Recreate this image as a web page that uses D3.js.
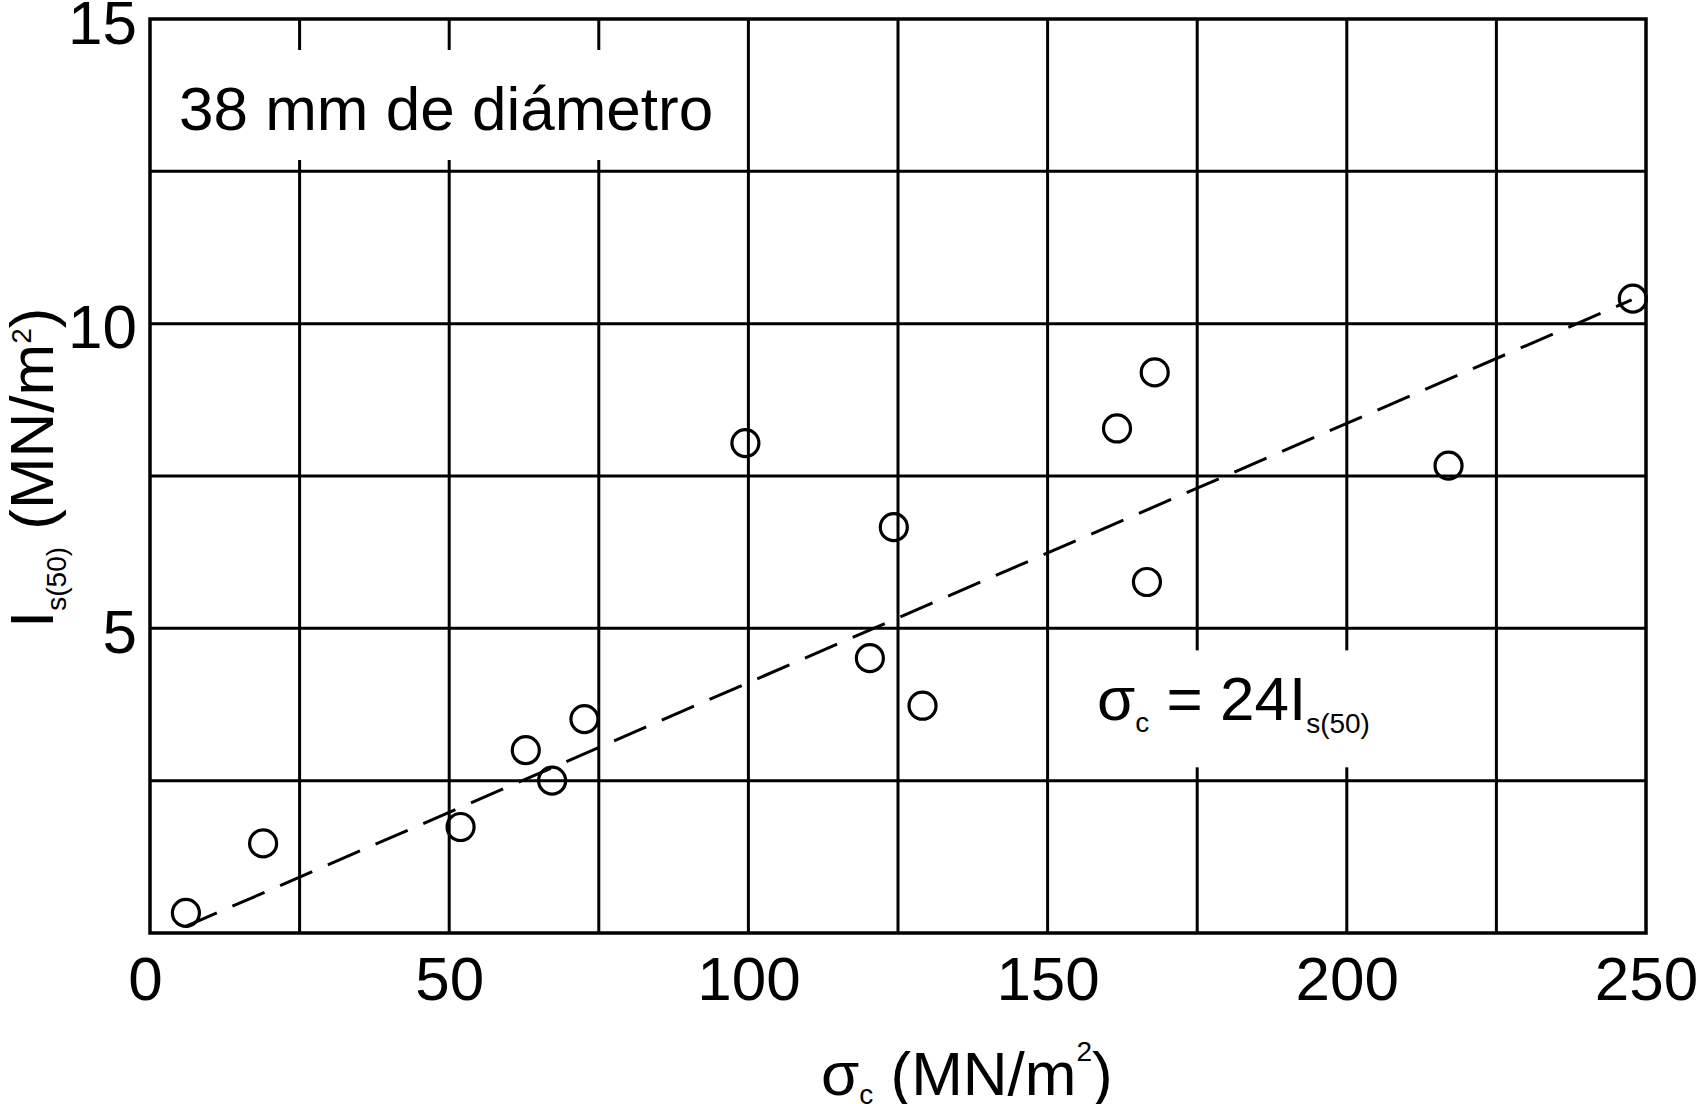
<!DOCTYPE html>
<html lang="es">
<head>
    <meta charset="UTF-8">
    <title>Is(50) frente a σc</title>
    <style>
        body {
            margin: 0;
            background: #fff;
        }
        svg {
            display: block;
            font-family: "Liberation Sans", Arial, sans-serif;
        }
        .grid line {
            stroke: #000;
            stroke-width: 3;
        }
        .frame {
            fill: none;
            stroke: #000;
            stroke-width: 3.5;
        }
        .fit {
            fill: none;
            stroke: #000;
            stroke-width: 3;
            stroke-dasharray: 35 17;
        }
        .pt {
            fill: none;
            stroke: #000;
            stroke-width: 3.2;
        }
    </style>
    <script src="https://cdn.jsdelivr.net/npm/d3@7"></script>
</head>
<body>
    <svg width="1702" height="1104"></svg>
    <script>
        // measured points (sigma_c in MN/m2, Is(50) in MN/m2)
        var sigmaC   = [6.0, 18.9, 51.9, 62.8, 67.2, 72.6, 99.5, 120.3, 124.3, 129.1, 161.6, 167.9, 166.6, 217.0, 247.8];
        var isValues = [0.33, 1.47, 1.74, 3.00, 2.50, 3.51, 8.04, 4.51, 6.66, 3.73, 8.28, 9.20, 5.76, 7.67, 10.41];

        // dashed trend line  sigma_c = 24 Is(50)
        var fitSigma = [5.8, 247.6];
        var fitIs    = [0.1, 10.39];

        var xTickLabels = [0, 50, 100, 150, 200, 250];
        var yTickLabels = [5, 10, 15];
        var xGrid = [25, 50, 75, 100, 125, 150, 175, 200, 225];
        var yGrid = [2.5, 5, 7.5, 10, 12.5];

        var margin = { top: 19, right: 56, bottom: 171, left: 150 },
            width = 1702 - margin.left - margin.right,
            height = 1104 - margin.top - margin.bottom;

        var svg = d3.select("svg")
          .append("g")
            .attr("transform", "translate(" + margin.left + "," + margin.top + ")");

        var x = d3.scaleLinear().domain([0, 250]).range([0, width]);
        var y = d3.scaleLinear().domain([0, 15]).range([height, 0]);

        // grid
        var grid = svg.append("g").attr("class", "grid");
        grid.selectAll("line.v")
            .data(xGrid)
          .enter().append("line")
            .attr("class", "v")
            .attr("x1", function(d) { return x(d); })
            .attr("x2", function(d) { return x(d); })
            .attr("y1", 0)
            .attr("y2", height);
        grid.selectAll("line.h")
            .data(yGrid)
          .enter().append("line")
            .attr("class", "h")
            .attr("x1", 0)
            .attr("x2", width)
            .attr("y1", function(d) { return y(d); })
            .attr("y2", function(d) { return y(d); });

        // white boxes behind the two labels (grid is cut there)
        svg.append("rect")
            .attr("x", x(10)).attr("width", x(90) - x(10))
            .attr("y", 31).attr("height", 110)
            .attr("fill", "#fff");
        svg.append("rect")
            .attr("x", x(165)).attr("width", x(215) - x(165))
            .attr("y", y(5) + 22).attr("height", 117)
            .attr("fill", "#fff");

        svg.append("rect")
            .attr("class", "frame")
            .attr("width", width)
            .attr("height", height);

        // axes (labels only)
        var xAxis = svg.append("g")
            .attr("transform", "translate(0," + height + ")")
            .call(d3.axisBottom(x).tickValues(xTickLabels).tickSize(0).tickPadding(0));
        xAxis.select(".domain").remove();
        xAxis.selectAll("text")
            .attr("y", 67)
            .attr("dy", null)
            .attr("dx", function(d) { return d === 0 ? -5 : 0; })
            .attr("font-size", 62)
            .attr("font-family", "Liberation Sans, Arial, sans-serif")
            .attr("fill", "#000");

        var yAxis = svg.append("g")
            .call(d3.axisLeft(y).tickValues(yTickLabels).tickSize(0).tickPadding(13));
        yAxis.select(".domain").remove();
        yAxis.selectAll("text")
            .attr("dy", 24)
            .attr("font-size", 62)
            .attr("font-family", "Liberation Sans, Arial, sans-serif")
            .attr("fill", "#000");

        // trend line
        var line = d3.line()
            .x(function(d) { return x(d[0]); })
            .y(function(d) { return y(d[1]); });
        svg.append("path")
            .attr("class", "fit")
            .attr("d", line(d3.zip(fitSigma, fitIs)));

        // points
        svg.selectAll("circle.pt")
            .data(d3.zip(sigmaC, isValues))
          .enter().append("circle")
            .attr("class", "pt")
            .attr("cx", function(d) { return x(d[0]); })
            .attr("cy", function(d) { return y(d[1]); })
            .attr("r", 13.5);

        // labels
        svg.append("text")
            .attr("x", 29)
            .attr("y", 111)
            .attr("font-size", 62)
            .text("38 mm de diámetro");

        var eq = svg.append("text")
            .attr("x", 947)
            .attr("y", 701)
            .attr("font-size", 62);
        eq.append("tspan").text("σ");
        eq.append("tspan").attr("font-size", 28).attr("dy", 12).text("c");
        eq.append("tspan").attr("dy", -12).text(" = 24I");
        eq.append("tspan").attr("font-size", 28).attr("dy", 13).text("s(50)");

        var xt = d3.select("svg").append("text")
            .attr("x", 821)
            .attr("y", 1095)
            .attr("font-size", 62);
        xt.append("tspan").text("σ");
        xt.append("tspan").attr("font-size", 28).attr("dy", 9).text("c");
        xt.append("tspan").attr("dy", -9).text(" (MN/m");
        xt.append("tspan").attr("font-size", 28).attr("dy", -34).text("2");
        xt.append("tspan").attr("dy", 34).text(")");

        var yt = d3.select("svg").append("text")
            .attr("transform", "translate(53,628) rotate(-90)")
            .attr("font-size", 62);
        yt.append("tspan").text("I");
        yt.append("tspan").attr("font-size", 28).attr("dy", 13).text("s(50)");
        yt.append("tspan").attr("dy", -13).text(" (MN/m");
        yt.append("tspan").attr("font-size", 28).attr("dy", -22).text("2");
        yt.append("tspan").attr("dy", 22).text(")");
    </script>
</body>
</html>
